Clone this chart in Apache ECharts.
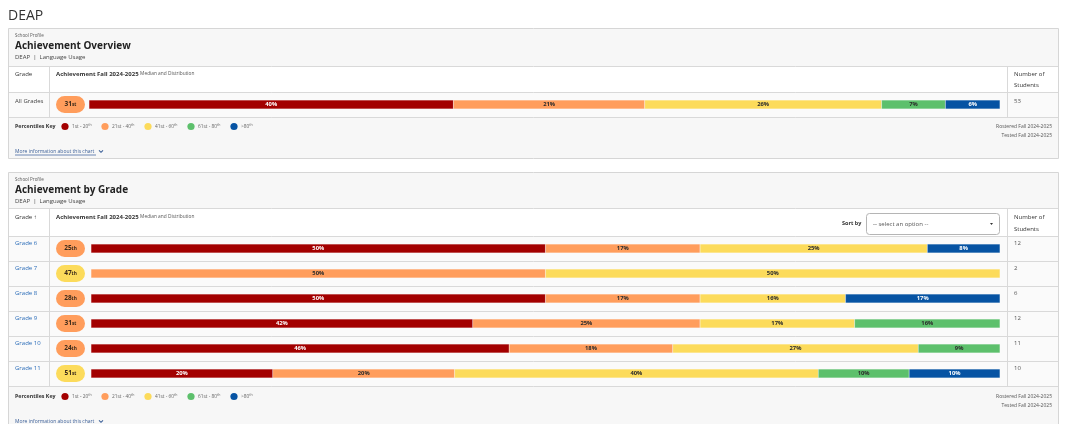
<!DOCTYPE html>
<html><head><meta charset="utf-8">
<script src="https://cdn.jsdelivr.net/npm/echarts@6/dist/echarts.min.js"></script>
<style>html,body{margin:0;padding:0;background:#fff}#c{width:1066px;height:424px}</style>
</head><body><div id="c"></div>
<script>
// ---- data ----
const allCategories = ['All Grades'];
const allBand1 = [40], allBand2 = [21], allBand3 = [26], allBand4 = [7], allBand5 = [6];
const allMedian = [31];
const allStudents = [53];

const grades = ['Grade 6','Grade 7','Grade 8','Grade 9','Grade 10','Grade 11'];
const band1 = [50, 0, 50, 42, 46, 20];
const band2 = [17, 50, 17, 25, 18, 20];
const band3 = [25, 50, 16, 17, 27, 40];
const band4 = [0, 0, 0, 16, 9, 10];
const band5 = [8, 0, 17, 0, 0, 10];
const gradeMedian = [25, 47, 28, 31, 24, 51];
const gradeStudents = [12, 2, 6, 12, 11, 10];

const bandNames = ['1st - 20', '21st - 40', '41st - 60', '61st - 80', '>80'];
const bandColors = ['#a30000', '#ff9d5c', '#fcdb5b', '#5dc06c', '#0653a3'];
const bandText = ['#fff', '#2b2b2b', '#2b2b2b', '#2b2b2b', '#fff'];

const FONT = '"Open Sans", "Noto Sans", sans-serif';
function ordSuffix(n){ const t=n%100; if(t>=11&&t<=13) return 'th'; return ({1:'st',2:'nd',3:'rd'})[n%10]||'th'; }
function bandIndex(m){ return m<=20?0:m<=40?1:m<=60?2:m<=80?3:4; }

const chart = echarts.init(document.getElementById('c'), null, {renderer:'canvas'});

// ---- layout ----
const P1 = {top:28, hdr:66, colHdr:92, bottom:117, panelBottom:158};
const P2 = {top:172, hdr:208, colHdr:236, rowH:25, bottom:386};

const g = [];
function txt(x,y,text,o){ g.push(Object.assign({type:'text',x:x,y:y,silent:true,style:Object.assign({text:text,fontFamily:FONT,fontSize:6,fill:'#333',textVerticalAlign:'middle'},o||{})})); }
function rect(x,y,w,h,fill,stroke,r){ g.push({type:'rect',silent:true,shape:{x:x,y:y,width:w,height:h,r:r||0},style:{fill:fill,stroke:stroke||null,lineWidth:1}}); }
function line(x1,y1,x2,y2,c){ g.push({type:'line',silent:true,shape:{x1:x1,y1:y1,x2:x2,y2:y2},style:{stroke:c||'#d9d9d9',lineWidth:1}}); }

txt(8,16,'DEAP',{fontSize:14,fill:'#333'});

function panel(top, hdrY, tableBottom, panelBottom, title, rowsTop, rowsBottom){
  rect(8.5, top+0.5, 1050, panelBottom-top, '#f7f7f7', '#d6d6d6');
  rect(9, hdrY, 1049, tableBottom-hdrY, '#ffffff');
  rect(9, rowsTop, 1049, rowsBottom-rowsTop, '#fafafa');
  txt(15, top+8, 'School Profile', {fontSize:4.5, fill:'#555'});
  txt(15, top+18, title, {fontSize:10, fontWeight:'bold', fill:'#222'});
  txt(15, top+29, 'DEAP  |  Language Usage', {fontSize:6, fill:'#444'});
  line(9, hdrY+0.5, 1058, hdrY+0.5);
  line(9, tableBottom+0.5, 1058, tableBottom+0.5);
  line(49.5, hdrY, 49.5, tableBottom);
  line(1007.5, hdrY, 1007.5, tableBottom);
}

// panel 1
panel(P1.top, P1.hdr, P1.bottom, P1.panelBottom, 'Achievement Overview', P1.colHdr, P1.bottom);
line(9, P1.colHdr+0.5, 1058, P1.colHdr+0.5);
txt(15, 74, 'Grade', {fontSize:6});
txt(56, 74, '{b|Achievement Fall 2024-2025} {s|Median and Distribution}', {rich:{b:{fontSize:6,fontWeight:'bold',fill:'#333',fontFamily:FONT},s:{fontSize:4.8,fill:'#555',fontFamily:FONT}}});
txt(1014, 74, 'Number of', {fontSize:6});
txt(1014, 85, 'Students', {fontSize:6});
allCategories.forEach((c,i)=>{ txt(15, P1.colHdr+9, c, {fontSize:6, fill:'#444'}); txt(1014, P1.colHdr+9, String(allStudents[i]), {fontSize:6, fill:'#555'}); });

// panel 2
panel(P2.top, P2.hdr, P2.bottom, 440, 'Achievement by Grade', P2.colHdr, P2.bottom);
txt(15, 217, 'Grade \u2191', {fontSize:6});
txt(56, 217, '{b|Achievement Fall 2024-2025} {s|Median and Distribution}', {rich:{b:{fontSize:6,fontWeight:'bold',fill:'#333',fontFamily:FONT},s:{fontSize:4.8,fill:'#555',fontFamily:FONT}}});
txt(1014, 217, 'Number of', {fontSize:6});
txt(1014, 229, 'Students', {fontSize:6});
txt(842, 223.5, 'Sort by', {fontSize:5.5, fontWeight:'bold'});
rect(866.5, 213.5, 133, 21, '#fff', '#b5b5b5', 3);
txt(873, 224, '-- select an option --', {fontSize:6, fill:'#555'});
g.push({type:'polygon',silent:true,shape:{points:[[990,223],[993,223],[991.5,225]]},style:{fill:'#333'}});
grades.forEach((gr,i)=>{
  const top = P2.colHdr + i*P2.rowH;
  line(9, top+0.5, 1058, top+0.5);
  txt(15, top+7, gr, {fontSize:6, fill:'#2a6cb8'});
  txt(1014, top+7, String(gradeStudents[i]), {fontSize:6, fill:'#555'});
});

// keys
function key(y, moreY, rostY){
  txt(15, y, 'Percentiles Key', {fontSize:5.3, fontWeight:'bold', fill:'#333'});
  const xs=[65,105,148,191,234];
  bandNames.forEach((n,i)=>{
    g.push({type:'circle',silent:true,shape:{cx:xs[i],cy:y,r:3.6},style:{fill:bandColors[i]}});
    txt(xs[i]+7, y, n+'{s|th}', {fontSize:4.8, fill:'#666', rich:{s:{fontSize:3.5,fill:'#666',verticalAlign:'top',padding:[0,0,3,0],fontFamily:FONT}}});
  });
  txt(1052, rostY, 'Rostered Fall 2024-2025', {fontSize:5, fill:'#555', textAlign:'right'});
  txt(1052, rostY+9, 'Tested Fall 2024-2025', {fontSize:5, fill:'#555', textAlign:'right'});
  txt(15, moreY, 'More information about this chart', {fontSize:5, fill:'#3b5f98'});
  line(15, moreY+3.5, 96, moreY+3.5, '#6d86b3');
  g.push({type:'polyline',silent:true,shape:{points:[[99,moreY-1.2],[101,moreY+0.8],[103,moreY-1.2]]},style:{stroke:'#3b5f98',lineWidth:1.1,fill:null}});
}
key(126.5, 151.5, 126.5);
key(396.5, 421.5, 396.5);

// ---- series ----
const bandsAll = [allBand1, allBand2, allBand3, allBand4, allBand5];
const bandsGrade = [band1, band2, band3, band4, band5];
const series = [];
function addBars(arrs, gridIdx, stack){
  arrs.forEach((arr,i)=>{
    series.push({type:'bar', stack:stack, xAxisIndex:gridIdx, yAxisIndex:gridIdx, barWidth:9,
      data: arr.map(v=>v===0?null:v), itemStyle:{color:bandColors[i], borderColor:'rgba(255,255,255,0.35)', borderWidth:0.4},
      label:{show:true, position:'inside', formatter:p=>p.value?p.value+'%':'', color:bandText[i], fontSize:5.8, fontWeight:'bold', fontFamily:FONT},
      silent:true, animation:false});
  });
}
addBars(bandsAll, 0, 'all');
addBars(bandsGrade, 1, 'grade');

const pill = 'path://M9,0 L21,0 A9,9 0 0 1 21,18 L9,18 A9,9 0 0 1 9,0 Z';
function addPills(meds, cats, gridIdx){
  series.push({type:'scatter', xAxisIndex:gridIdx, yAxisIndex:gridIdx, symbol:pill, symbolSize:[29,17], silent:true, animation:false,
    itemStyle:{opacity:1},
    data: meds.map((m,i)=>({value:[0.5, cats[i]], median:m, itemStyle:{color:bandColors[bandIndex(m)], opacity:1}})),
    label:{show:true, position:'inside', formatter:p=>'{n|'+p.data.median+'}{s|'+ordSuffix(p.data.median)+'}',
      rich:{n:{fontSize:6.5,fontWeight:'bold',color:'#3a2a1a',fontFamily:FONT}, s:{fontSize:4.8,fontWeight:'bold',color:'#3a2a1a',fontFamily:FONT}}}});
}
addPills(allMedian, allCategories, 2);
addPills(gradeMedian, grades, 3);

chart.setOption({
  animation:false,
  graphic:{elements:g},
  grid:[
    {left:89, top:P1.colHdr, width:911, height:P1.bottom-P1.colHdr},
    {left:91, top:P2.colHdr, width:909, height:P2.bottom-P2.colHdr},
    {left:56, top:P1.colHdr, width:29, height:P1.bottom-P1.colHdr},
    {left:56, top:P2.colHdr, width:29, height:P2.bottom-P2.colHdr}
  ],
  xAxis:[
    {type:'value', gridIndex:0, min:0, max:100, show:false},
    {type:'value', gridIndex:1, min:0, max:100, show:false},
    {type:'value', gridIndex:2, min:0, max:1, show:false},
    {type:'value', gridIndex:3, min:0, max:1, show:false}
  ],
  yAxis:[
    {type:'category', gridIndex:0, data:allCategories, show:false},
    {type:'category', gridIndex:1, data:grades, inverse:true, show:false},
    {type:'category', gridIndex:2, data:allCategories, show:false},
    {type:'category', gridIndex:3, data:grades, inverse:true, show:false}
  ],
  series:series
});
</script>
</body></html>
